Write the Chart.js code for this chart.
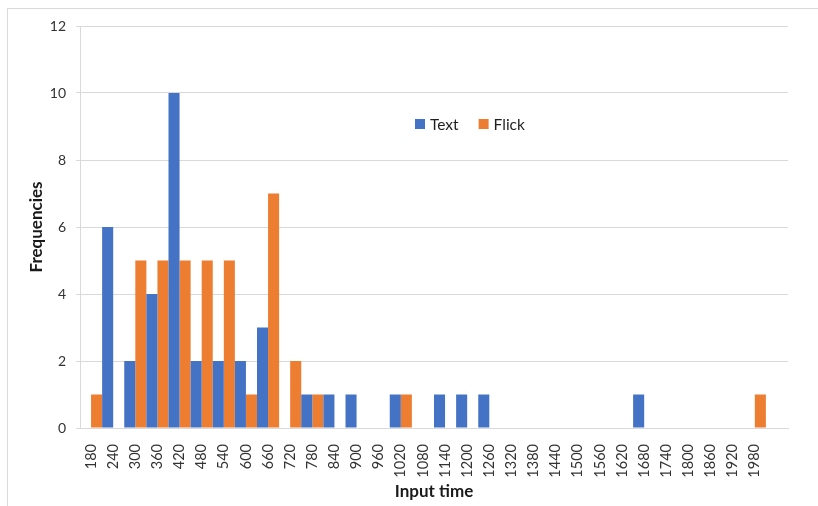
<!DOCTYPE html>
<html>
<head>
<meta charset="utf-8">
<script src="https://cdn.jsdelivr.net/npm/chart.js@4"></script>
<style>
html,body{margin:0;padding:0;background:#fff;}
#wrap{width:818px;height:506px;}
</style>
</head>
<body>
<div id="wrap"><canvas id="c" width="818" height="506"></canvas></div>
<script>
const categories = ['180','240','300','360','420','480','540','600','660','720','780','840','900','960','1020','1080','1140','1200','1260','1320','1380','1440','1500','1560','1620','1680','1740','1800','1860','1920','1980',''];
const textValues  = [0,6,2,4,10,2,2,2,3,0,1,1,1,0,1,0,1,1,1,0,0,0,0,0,0,1,0,0,0,0,0,0];
const flickValues = [1,0,5,5,5,5,5,1,7,2,1,0,0,0,1,0,0,0,0,0,0,0,0,0,0,0,0,0,0,0,1,0];
const seriesNames = ['Text','Flick'];
const seriesColors = ['#4472C4','#ED7D31'];
const yTicks = [0,2,4,6,8,10,12];

const FONT = 'Lato, "Open Sans", sans-serif';

const framePlugin = {
  id: 'frame',
  beforeDraw(chart) {
    const ctx = chart.ctx;
    ctx.save();
    ctx.fillStyle = '#ffffff';
    ctx.fillRect(0, 0, chart.width, chart.height);
    ctx.strokeStyle = '#d9d9d9';
    ctx.lineWidth = 1;
    ctx.strokeRect(7.5, 8.5, chart.width + 20, chart.height + 20);
    ctx.restore();
  }
};

const innerLegend = {
  id: 'innerLegend',
  afterDraw(chart) {
    const ctx = chart.ctx;
    ctx.save();
    ctx.font = '15.5px ' + FONT;
    ctx.textBaseline = 'middle';
    ctx.textAlign = 'left';
    let x = 415;
    const y = 124;
    chart.data.datasets.forEach((ds) => {
      ctx.fillStyle = ds.backgroundColor;
      ctx.fillRect(x, y - 5, 10, 10);
      x += 15;
      ctx.fillStyle = '#1f1f1f';
      ctx.fillText(ds.label, x, y + 0.5);
      x += ctx.measureText(ds.label).width + 20;
    });
    ctx.restore();
  }
};

new Chart(document.getElementById('c'), {
  type: 'bar',
  data: {
    labels: categories,
    datasets: [
      { label: seriesNames[0], data: textValues, backgroundColor: seriesColors[0], borderWidth: 0, inflateAmount: 0, categoryPercentage: 1, barPercentage: 1 },
      { label: seriesNames[1], data: flickValues, backgroundColor: seriesColors[1], borderWidth: 0, inflateAmount: 0, categoryPercentage: 1, barPercentage: 1 }
    ]
  },
  options: {
    responsive: false,
    animation: false,
    devicePixelRatio: 1,
    layout: { padding: { left: 22, top: 26, right: 30, bottom: 2 } },
    plugins: {
      legend: { display: false },
      tooltip: { enabled: false }
    },
    scales: {
      x: {
        offset: true,
        grid: { display: false },
        border: { display: true, color: '#d9d9d9' },
        ticks: {
          autoSkip: false,
          minRotation: 90,
          maxRotation: 90,
          padding: 8,
          color: '#333333',
          font: { family: FONT, size: 14.5 }
        },
        title: {
          display: true,
          text: 'Input time',
          color: '#1a1a1a',
          font: { family: FONT, size: 17, weight: 'bold' },
          padding: { top: 0, bottom: 2 }
        },
        afterFit(scale) { scale.height = 76; }
      },
      y: {
        min: 0,
        max: 12,
        afterBuildTicks(scale) { scale.ticks = yTicks.map(v => ({ value: v })); },
        grid: { color: '#d9d9d9', tickLength: 4, lineWidth: 1 },
        border: { display: true, color: '#d9d9d9' },
        ticks: {
          padding: 10,
          color: '#333333',
          font: { family: FONT, size: 14 }
        },
        title: {
          display: true,
          text: 'Frequencies',
          color: '#1a1a1a',
          font: { family: FONT, size: 17, weight: 'bold' },
          padding: { top: 4, bottom: 0 }
        },
        afterFit(scale) { scale.width = 58; }
      }
    }
  },
  plugins: [framePlugin, innerLegend]
});
</script>
</body>
</html>
